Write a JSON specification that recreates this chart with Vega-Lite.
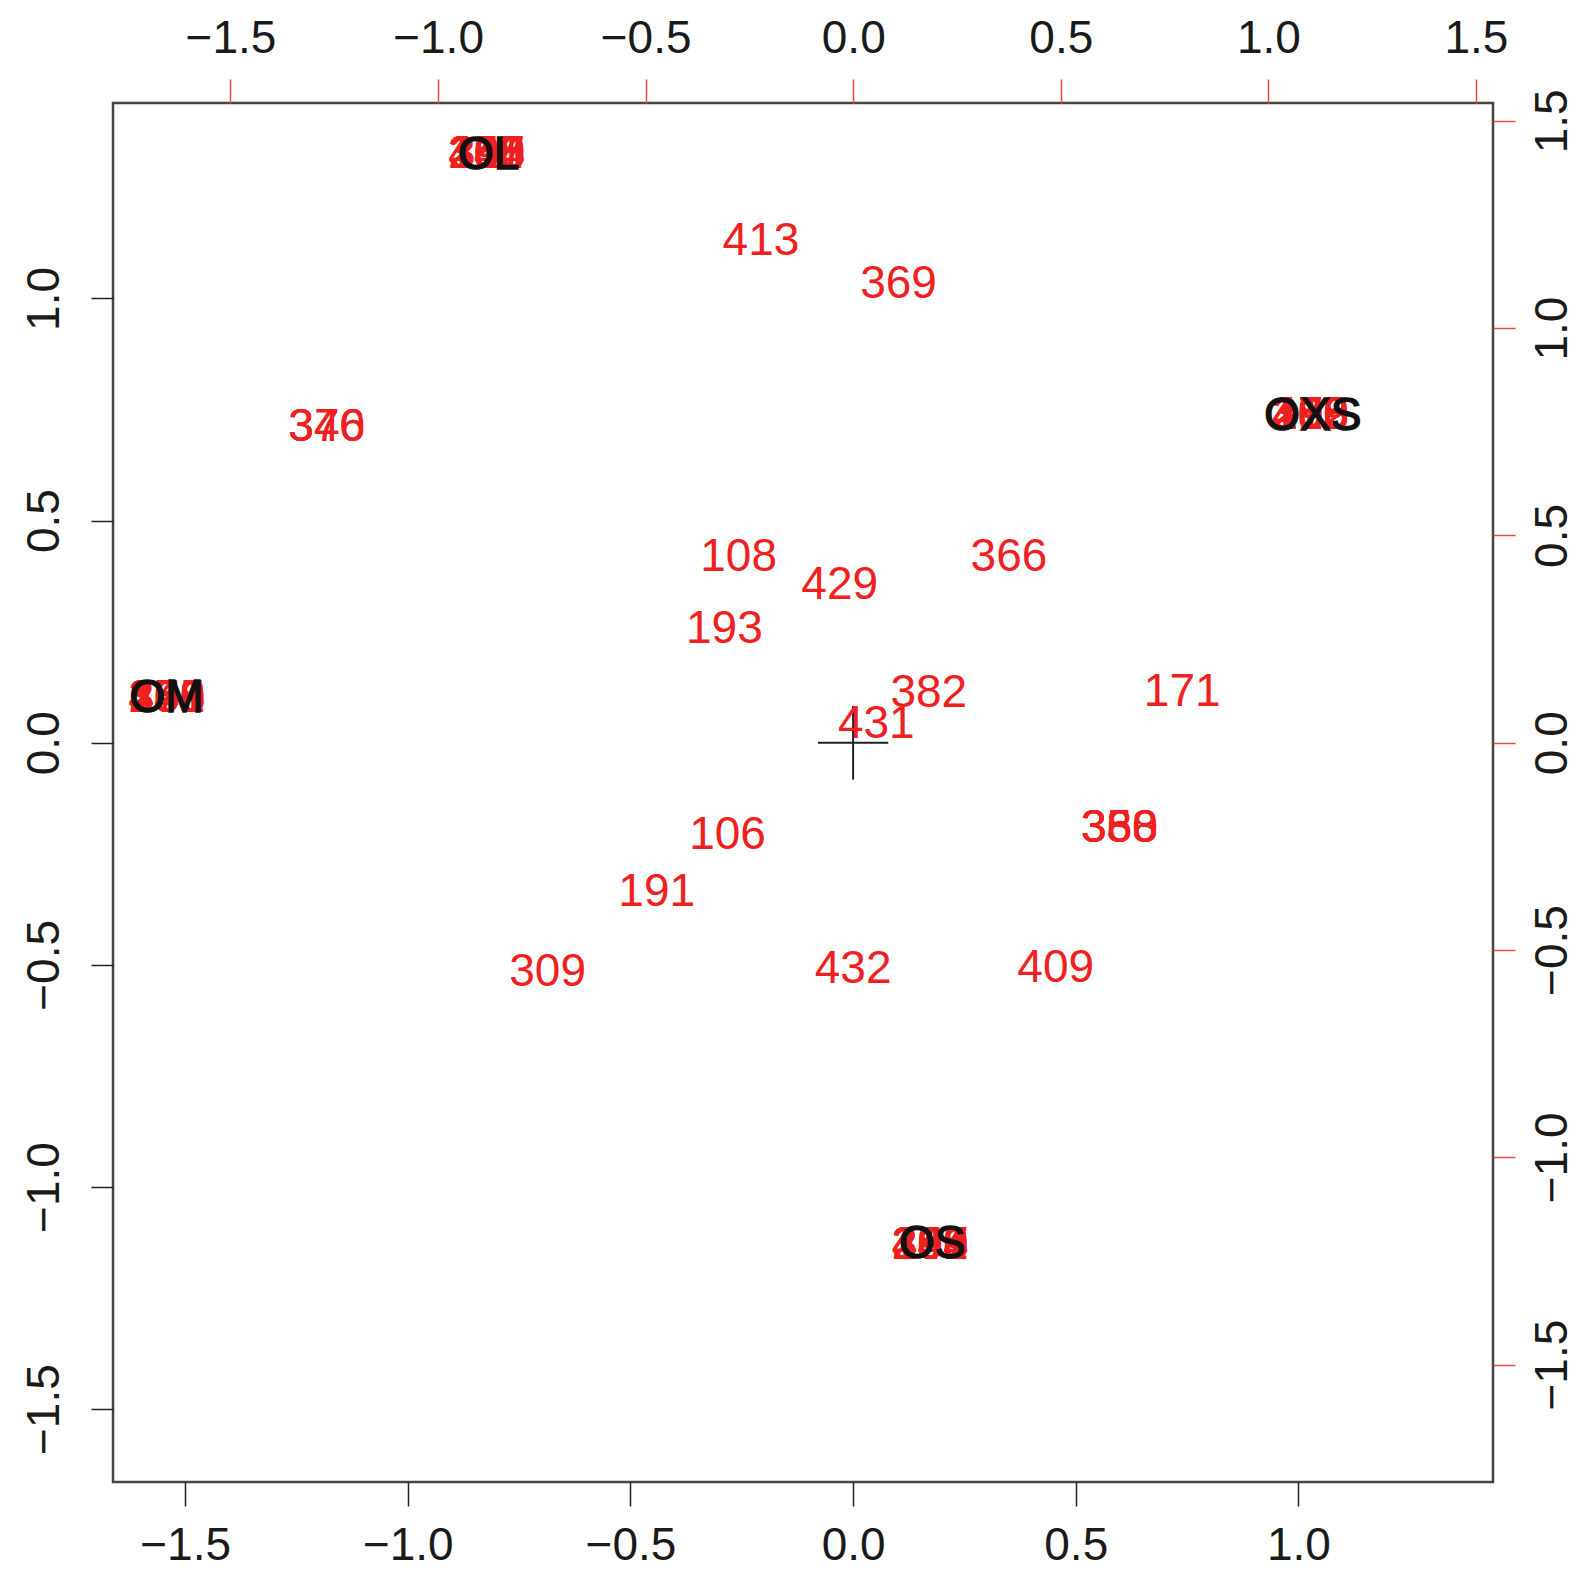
{
  "$schema": "https://vega.github.io/schema/vega-lite/v6.json",
  "autosize": {"type": "none"},
  "padding": {"left": 113, "top": 103, "right": 94, "bottom": 96},
  "width": 1380,
  "height": 1379,
  "background": "white",
  "config": {
    "view": {"stroke": "#444444", "strokeWidth": 2.5},
    "axis": {"domain": false, "grid": false, "labelFont": "Liberation Sans", "labelFontSize": 46, "labelColor": "#1a1a1a", "format": ".1f", "labelOverlap": false, "labelFlush": false, "title": null},
    "text": {"font": "Liberation Sans", "fontSize": 46, "align": "center", "baseline": "middle"}
  },
  "datasets": {
    "rows": [
      {"label": "413", "x": -0.207, "y": 1.130},
      {"label": "369", "x": 0.102, "y": 1.032},
      {"label": "108", "x": -0.257, "y": 0.419},
      {"label": "429", "x": -0.030, "y": 0.355},
      {"label": "366", "x": 0.350, "y": 0.419},
      {"label": "193", "x": -0.289, "y": 0.257},
      {"label": "382", "x": 0.170, "y": 0.112},
      {"label": "171", "x": 0.739, "y": 0.114},
      {"label": "431", "x": 0.052, "y": 0.043},
      {"label": "106", "x": -0.282, "y": -0.207},
      {"label": "191", "x": -0.441, "y": -0.337},
      {"label": "309", "x": -0.686, "y": -0.517},
      {"label": "432", "x": 0.000, "y": -0.510},
      {"label": "409", "x": 0.455, "y": -0.508},
      {"label": "306", "x": -0.823, "y": 1.326},
      {"label": "311", "x": -0.823, "y": 1.326},
      {"label": "348", "x": -0.823, "y": 1.326},
      {"label": "380", "x": -0.823, "y": 1.326},
      {"label": "388", "x": -0.823, "y": 1.326},
      {"label": "208", "x": -0.823, "y": 1.326},
      {"label": "104", "x": -0.823, "y": 1.326},
      {"label": "457", "x": -0.823, "y": 1.326},
      {"label": "290", "x": -0.823, "y": 1.326},
      {"label": "168", "x": -0.823, "y": 1.326},
      {"label": "376", "x": -1.182, "y": 0.711},
      {"label": "340", "x": -1.182, "y": 0.711},
      {"label": "346", "x": -1.182, "y": 0.711},
      {"label": "215", "x": 1.027, "y": 0.738},
      {"label": "388", "x": 1.027, "y": 0.738},
      {"label": "470", "x": 1.027, "y": 0.738},
      {"label": "193", "x": 1.027, "y": 0.738},
      {"label": "308", "x": 1.027, "y": 0.738},
      {"label": "280", "x": 1.027, "y": 0.738},
      {"label": "166", "x": 1.027, "y": 0.738},
      {"label": "459", "x": 1.027, "y": 0.738},
      {"label": "102", "x": 1.027, "y": 0.738},
      {"label": "101", "x": -1.541, "y": 0.100},
      {"label": "208", "x": -1.541, "y": 0.100},
      {"label": "380", "x": -1.541, "y": 0.100},
      {"label": "498", "x": -1.541, "y": 0.100},
      {"label": "265", "x": -1.541, "y": 0.100},
      {"label": "176", "x": -1.541, "y": 0.100},
      {"label": "343", "x": -1.541, "y": 0.100},
      {"label": "409", "x": -1.541, "y": 0.100},
      {"label": "333", "x": 0.598, "y": -0.191},
      {"label": "360", "x": 0.598, "y": -0.191},
      {"label": "388", "x": 0.598, "y": -0.191},
      {"label": "350", "x": 0.598, "y": -0.191},
      {"label": "301", "x": 0.173, "y": -1.130},
      {"label": "248", "x": 0.173, "y": -1.130},
      {"label": "380", "x": 0.173, "y": -1.130},
      {"label": "468", "x": 0.173, "y": -1.130},
      {"label": "156", "x": 0.173, "y": -1.130},
      {"label": "209", "x": 0.173, "y": -1.130},
      {"label": "337", "x": 0.173, "y": -1.130},
      {"label": "494", "x": 0.173, "y": -1.130}
    ],
    "cols": [
      {"label": "OL", "x": -0.878, "y": 1.417},
      {"label": "OXS", "x": 1.107, "y": 0.789},
      {"label": "OM", "x": -1.654, "y": 0.107},
      {"label": "OS", "x": 0.190, "y": -1.208}
    ],
    "cross": [
      {"x": -0.079, "x2": 0.079, "y": 0, "y2": 0},
      {"x": 0, "x2": 0, "y": -0.083, "y2": 0.083}
    ]
  },
  "layer": [
    {
      "encoding": {
        "x": {"field": "x", "type": "quantitative", "scale": {"domain": [-1.662, 1.437], "nice": false, "zero": false},
              "axis": {"orient": "bottom", "values": [-1.5, -1, -0.5, 0, 0.5, 1], "tickSize": 24, "tickColor": "#222222", "tickWidth": 1.5, "labelBaseline": "middle", "labelPadding": 39}},
        "y": {"field": "y", "type": "quantitative", "scale": {"domain": [-1.664, 1.440], "nice": false, "zero": false},
              "axis": {"orient": "left", "values": [-1.5, -1, -0.5, 0, 0.5, 1], "tickSize": 22, "tickColor": "#222222", "tickWidth": 1.5, "labelAngle": 270, "labelAlign": "center", "labelBaseline": "middle", "labelPadding": 47}}
      },
      "layer": [
        {"data": {"name": "cross"}, "mark": {"type": "rule", "color": "#222222", "strokeWidth": 2},
         "encoding": {"x2": {"field": "x2"}, "y2": {"field": "y2"}}},
        {"data": {"name": "rows"}, "mark": {"type": "text", "color": "#F02020"},
         "encoding": {"text": {"field": "label"}}}
      ]
    },
    {
      "data": {"name": "cols"},
      "mark": {"type": "text", "color": "#111111", "stroke": "#111111", "strokeWidth": 1.5},
      "encoding": {
        "x": {"field": "x", "type": "quantitative", "scale": {"domain": [-1.783, 1.541], "nice": false, "zero": false},
              "axis": {"orient": "top", "values": [-1.5, -1, -0.5, 0, 0.5, 1, 1.5], "tickSize": 24, "tickColor": "#EE4444", "tickWidth": 1.5, "labelBaseline": "middle", "labelPadding": 41}},
        "y": {"field": "y", "type": "quantitative", "scale": {"domain": [-1.783, 1.543], "nice": false, "zero": false},
              "axis": {"orient": "right", "values": [-1.5, -1, -0.5, 0, 0.5, 1, 1.5], "tickSize": 22, "tickColor": "#EE4444", "tickWidth": 1.5, "labelAngle": 270, "labelAlign": "center", "labelBaseline": "middle", "labelPadding": 37}},
        "text": {"field": "label"}
      }
    }
  ],
  "resolve": {"scale": {"x": "independent", "y": "independent"}}
}
